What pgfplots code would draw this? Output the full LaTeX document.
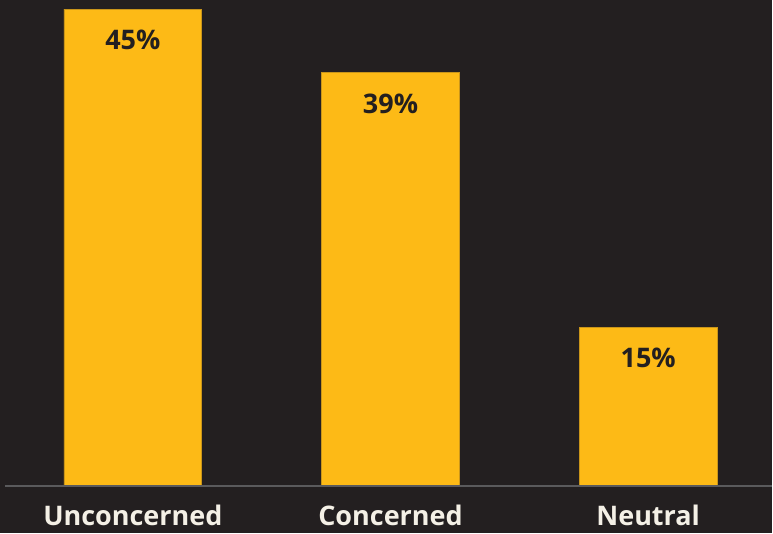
\documentclass[border=0pt]{standalone}
\usepackage{pgfplots}
\pgfplotsset{compat=1.18}
\usepackage{fontspec}
\setmainfont{Open Sans}
\definecolor{bg}{HTML}{231F20}
\definecolor{baryel}{HTML}{FDBA16}
\definecolor{baredge}{HTML}{C9951A}
\definecolor{labtxt}{HTML}{F4F0E6}
\definecolor{baseln}{HTML}{5A5A5C}
\begin{document}
\begin{tikzpicture}
\begin{axis}[
  scale only axis,
  width=773pt, height=534pt,
  xmin=-0.5155, xmax=2.4806,
  ymin=-4.426, ymax=45.857,
  axis background/.style={fill=bg},
  axis line style={draw=none},
  ticks=none,
  ybar, bar width=138pt,
  clip=false,
  /pgf/number format/assume math mode=true,
  nodes near coords={\pgfmathprintnumber{\pgfplotspointmeta}\%},
  nodes near coords style={font=\fontsize{27}{30}\selectfont\bfseries, text=bg, anchor=center, yshift=-31pt},
]
\addplot[fill=baryel, draw=baredge, line width=0.6pt] coordinates {(0,45) (1,39) (2,15)};
\draw[baseln, line width=2pt] (axis cs:-0.496,0) -- (axis cs:2.4806,0);
\node[text=labtxt, inner sep=0pt, anchor=base, font=\fontsize{27}{30}\selectfont\bfseries] at (axis cs:0,-3.72) {Unconcerned};
\node[text=labtxt, inner sep=0pt, anchor=base, font=\fontsize{27}{30}\selectfont\bfseries] at (axis cs:1,-3.72) {Concerned};
\node[text=labtxt, inner sep=0pt, anchor=base, font=\fontsize{27}{30}\selectfont\bfseries] at (axis cs:2,-3.72) {Neutral};
\end{axis}
\end{tikzpicture}
\end{document}
